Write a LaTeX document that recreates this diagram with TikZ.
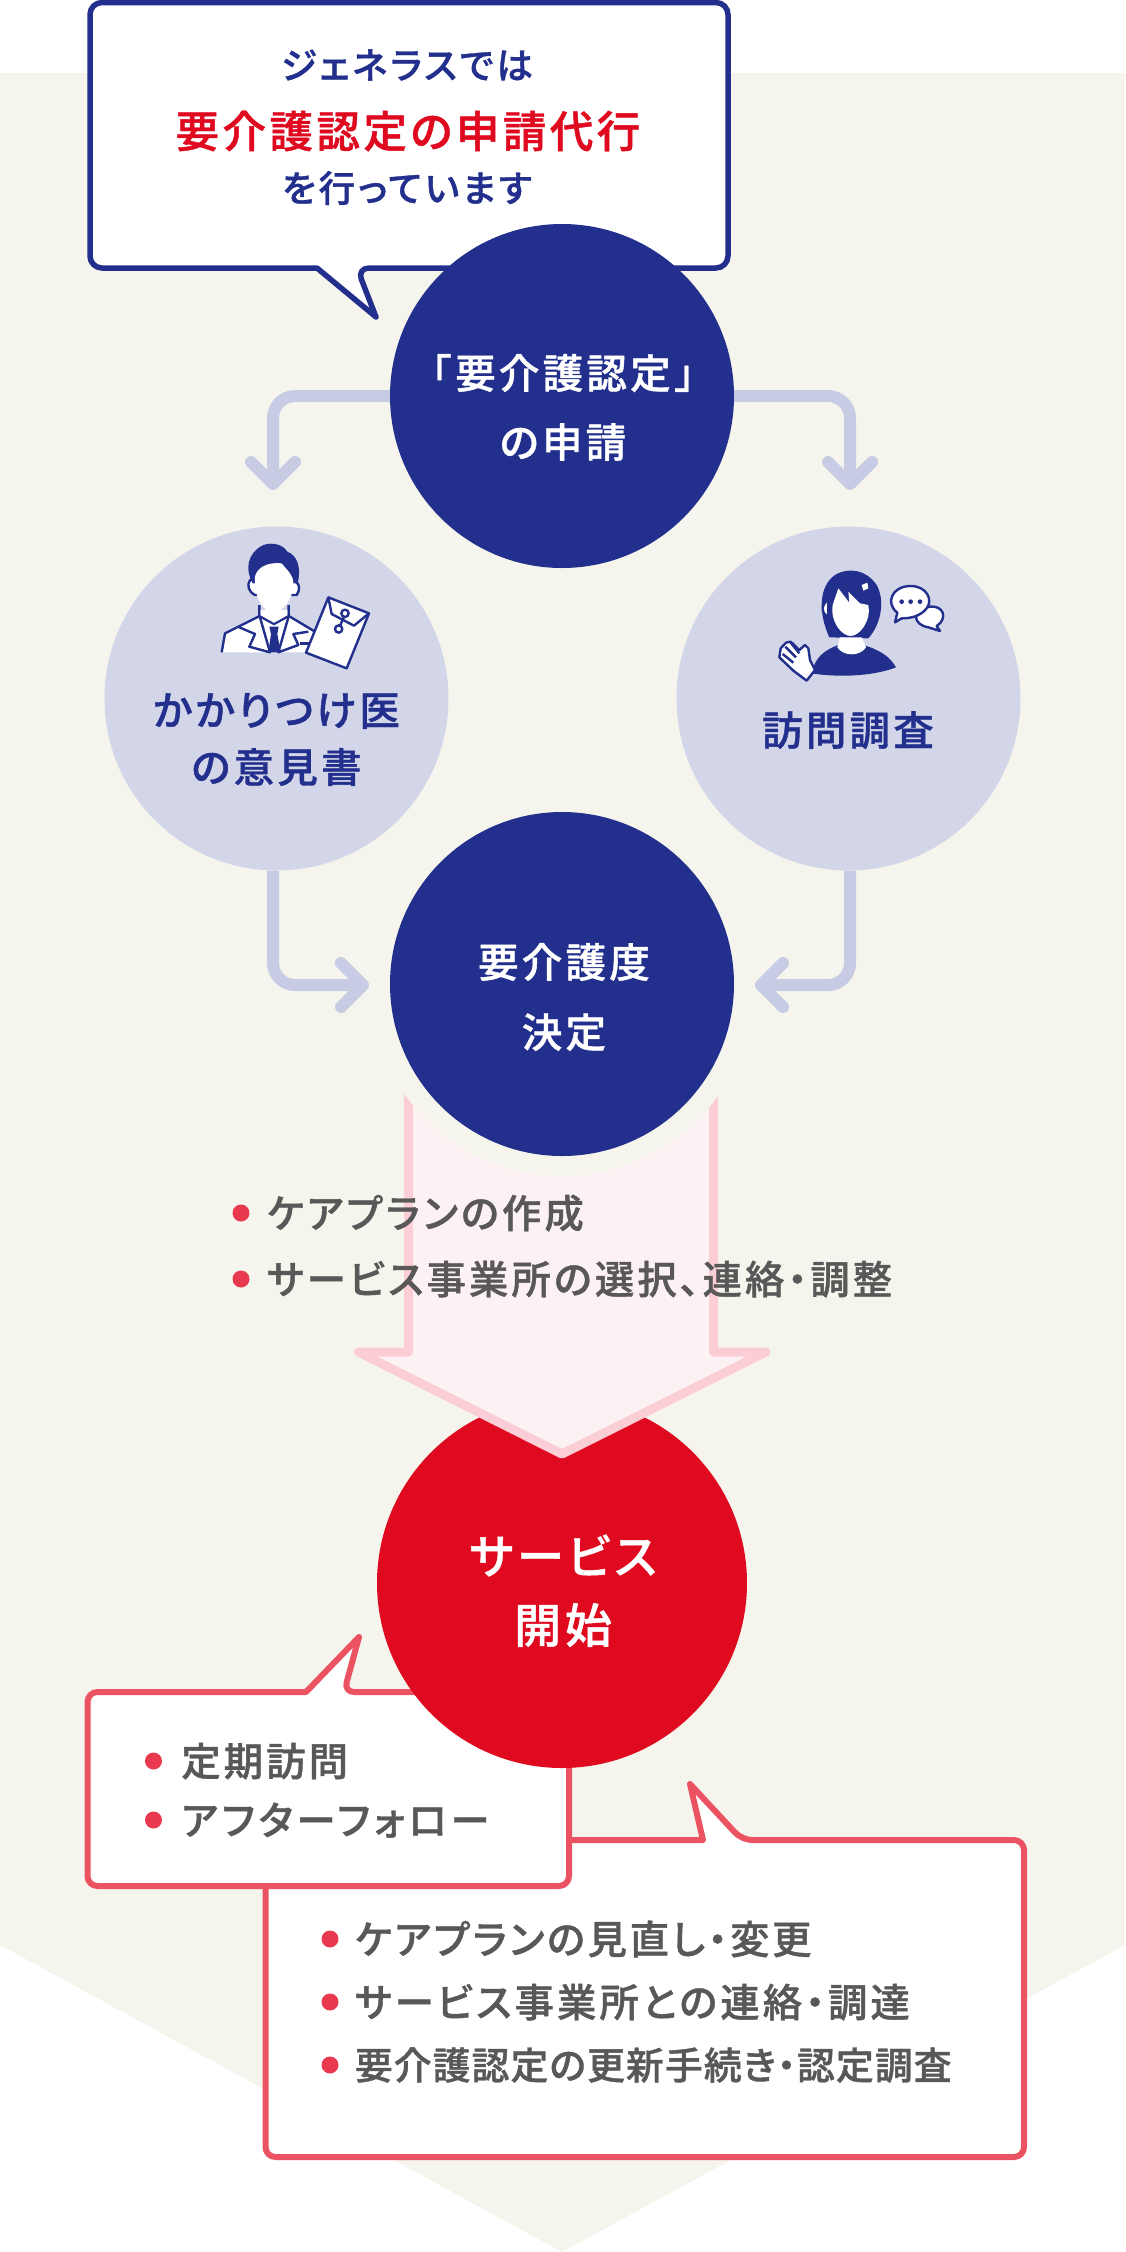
\documentclass[tikz,border=0pt]{standalone}
\usepackage{fontspec}
\usepackage{xcolor}
\setmainfont[LetterSpace=8,RawFeature=+palt,BoldFont={Noto Sans CJK JP Medium},BoldFeatures={FakeBold=1}]{Noto Sans CJK JP}
\usetikzlibrary{arrows.meta,positioning}
\definecolor{navy}{HTML}{222F8C}
\definecolor{pale}{HTML}{D3D6E9}
\definecolor{flowc}{HTML}{C8CBE4}
\definecolor{crimson}{HTML}{DF0A1F}
\definecolor{coral}{HTML}{EC5362}
\definecolor{dotc}{HTML}{E8394F}
\definecolor{pinkline}{HTML}{FBCED5}
\definecolor{pinkfill}{HTML}{FDF2F3}
\definecolor{beige}{HTML}{F5F5ED}
\definecolor{inkgray}{HTML}{595757}
\tikzset{
    disc/.style={circle, inner sep=0pt, minimum size=344pt, fill=navy},
    lightdisc/.style={disc, fill=pale},
    reddisc/.style={disc, minimum size=370pt, fill=crimson},
    halo/.style={disc, minimum size=384pt, fill=beige},
    word/.style={inner sep=0pt, text height=.88*#1*1pt, text depth=.12*#1*1pt, font=\bfseries\fontsize{#1}{#1}\selectfont},
    word/.default=40.5,
    inword/.style={word=#1, text=white},
    inword/.default=40.5,
    paleword/.style={word=#1, text=navy},
    paleword/.default=40.5,
    item/.style={word=#1, text=inkgray},
    item/.default=39.3,
    dot/.style={circle, inner sep=0pt, minimum size=17pt, fill=dotc},
    flow/.style={-{Straight Barb[length=22pt,width=44pt,round]}, line width=12pt, draw=flowc, rounded corners=22pt},
    navybubble/.style={draw=navy, fill=white, line width=5.5pt, line join=round},
    redbubble/.style={draw=coral, fill=white, line width=6pt, line join=round},
    icon/.style={draw=navy, fill=white, line width=2.4pt, line join=round},
    iconline/.style={navy, line width=2.4pt, line join=round}
}
\begin{document}
\begin{tikzpicture}[x=1pt,y=-1pt]
    \useasboundingbox (0,0) rectangle (1125,2252);
    \fill[beige] (0,73) -- (1125,73) -- (1125,1945) -- (562,2252) -- (0,1945) -- cycle;

    \draw[navybubble, rounded corners=12pt] (317,268) -- (90,268) -- (90,2.5) -- (728,2.5) -- (728,268) -- (357,268)
        [sharp corners] -- (376,317) -- cycle;

    \coordinate (doctortip) at (273,490);
    \coordinate (visittip) at (850,490);
    \coordinate (decideleft) at (369,985);
    \coordinate (decideright) at (755,985);

    \node[lightdisc] (doctor) at (276.5,698.5) {};
    \node[lightdisc] (visit) at (848.5,698.5) {};
    \node[disc] (apply) at (562,396) {};
    \draw[flow] (apply.west) -| (doctortip);
    \draw[flow] (apply.east) -| (visittip);
    \draw[flow] (doctortip |- doctor.south) |- (decideleft);
    \draw[flow] (visittip |- visit.south) |- (decideright);

    \draw[redbubble, rounded corners=10pt] (703,1840) -- (265.5,1840) -- (265.5,2157) -- (1024,2157) -- (1024,1840) -- (742,1840)
        [sharp corners] -- (690,1784) -- cycle;
    \draw[redbubble, rounded corners=10pt] (306,1692) -- (87.5,1692) -- (87.5,1886) -- (569,1886) -- (569,1692) -- (344,1692)
        [sharp corners] -- (359,1637) -- cycle;
    \node[reddisc] (start) at (562,1583) {};

    \fill[pinkfill] (408.5,1060) -- (408.5,1352) -- (358,1352) -- (562,1454) -- (766,1352) -- (713.5,1352) -- (713.5,1060) -- cycle;
    \draw[pinkline, line width=9pt, line join=round] (408.5,1060) -- (408.5,1352) -- (358.5,1352) -- (562,1454) -- (766,1352) -- (713.5,1352) -- (713.5,1060);
    \node[halo] (gap) at (562,984) {};
    \node[disc] (decide) at (562,984) {};

    \node[paleword=36.5] (lead) at (407,65) {ジェネラスでは};
    \node[word=43.5, text=crimson] (leadred) at (408,131) {要介護認定の申請代行};
    \node[paleword=36.5] (leadend) at (407,188) {を行っています};

    \node[inword] (applyone) at (563,373) {「\hspace{4pt}要介護認定\hspace{4pt}」};
    \node[inword] (applytwo) at (563,442) {の申請};
    \node[paleword] (doctorone) at (276.5,710) {かかりつけ医};
    \node[paleword] (doctortwo) at (276.5,767) {の意見書};
    \node[paleword] (visitone) at (848,730) {訪問調査};
    \node[inword] (decideone) at (564,962) {要介護度};
    \node[inword] (decidetwo) at (564,1032) {決定};
    \node[inword=47] (startone) at (563,1556) {サービス};
    \node[inword=47] (starttwo) at (563,1625) {開始};

    \node[dot] (plandot) at (241,1213) {};
    \node[item, right=17pt of plandot] (plan) {ケアプランの作成};
    \node[dot] (selectdot) at (241,1279) {};
    \node[item, right=17pt of selectdot] (select) {サービス事業所の選択、連絡・調整};

    \node[dot] (calldot) at (153.5,1761) {};
    \node[item, right=19pt of calldot] (call) {定期訪問};
    \node[dot] (afterdot) at (153.5,1820) {};
    \node[item, right=19pt of afterdot] (after) {\addfontfeature{LetterSpace=10}アフターフォロー};

    \node[dot] (reviewdot) at (330,1939) {};
    \node[item, right=16pt of reviewdot] (review) {\addfontfeature{LetterSpace=7}ケアプランの見直し・変更};
    \node[dot] (contactdot) at (330,2002) {};
    \node[item, right=16pt of contactdot] (contact) {サービス事業所との連絡・調達};
    \node[dot] (renewdot) at (330,2065) {};
    \node[item=37.8, right=16pt of renewdot] (renew) {\addfontfeature{LetterSpace=3}要介護認定の更新手続き・認定調査};

    \begin{scope}[shift={(200,530)},scale=1/3]
        \path[fill=white] (65,367) -- (75,310) -- (175,260) -- (270,260) -- (345,305) -- (320,367) -- cycle;
        \draw[iconline] (65,367) -- (75,310) -- (175,260) -- (270,260) -- (345,305);
        \draw[iconline] (118,292) -- (165,312) -- (148,350) -- (210,367) -- (180,262);
        \draw[iconline] (325,305) -- (280,312) -- (295,345) -- (235,367) -- (265,262);
        \fill[navy] (208,290) -- (236,290) -- (232,312) -- (242,367) -- (205,367) -- (213,312) -- cycle;
        \draw[iconline] (178,225) -- (178,258) -- (222,282) -- (266,258) -- (266,225);
        \fill[white] (182,240) -- (262,240) -- (262,256) -- (222,278) -- (182,256) -- cycle;
        \fill[navy] (300,335) rectangle (335,345);
        \draw[icon] (150,150) .. controls (140,165) and (145,185) .. (165,195) -- (290,195) .. controls (300,180) and (300,165) .. (288,155) -- cycle;
        \fill[navy] (158,160) .. controls (135,120) and (140,70) .. (190,45) .. controls (220,35) and (250,45) .. (262,65) .. controls (290,75) and (305,110) .. (293,160) -- cycle;
        \fill[white] (165,140) .. controls (170,115) and (200,95) .. (245,100) .. controls (265,125) and (280,135) .. (280,160) .. controls (280,210) and (245,248) .. (220,250) .. controls (195,248) and (160,205) .. (165,140) -- cycle;
        \draw[icon] (385,202) -- (507,250) -- (440,415) -- (318,368) -- cycle;
        \draw[iconline] (385,202) -- (395,252) -- (462,287) -- (507,250);
        \draw[icon] (435,250) circle[radius=11];
        \draw[icon] (416,297) circle[radius=11];
        \draw[iconline] (432,260) -- (420,288);
    \end{scope}

    \begin{scope}[shift={(760,550)},scale=1/3]
        \fill[navy] (208,262) .. controls (175,190) and (175,110) .. (225,75) .. controls (265,50) and (320,60) .. (350,105) .. controls (375,150) and (365,220) .. (325,265) -- cycle;
        \draw[icon] (205,150) .. controls (185,160) and (180,190) .. (205,200) -- cycle;
        \fill[navy] (155,370) .. controls (165,320) and (195,300) .. (235,285) -- (310,285) .. controls (360,300) and (390,320) .. (408,352) .. controls (350,375) and (250,385) .. (155,370) -- cycle;
        \fill[white] (240,262) -- (305,262) -- (318,292) .. controls (300,320) and (250,320) .. (232,292) -- cycle;
        \fill[white] (218,165) -- (235,115) -- (268,158) -- (265,125) -- (300,160) -- (325,165) .. controls (335,210) and (300,258) .. (272,258) .. controls (245,258) and (210,215) .. (218,165) -- cycle;
        \fill[white] (305,105) -- (322,98) -- (325,115) -- (310,122) -- cycle;
        \draw[icon] (165,360) -- (140,392) -- (100,362) -- (58,322) -- (62,295) -- (78,278) -- (92,275) -- (118,300) -- (135,285) -- (145,295) -- (150,330) -- cycle;
        \draw[iconline] (68,312) -- (100,338);
        \draw[iconline] (76,290) -- (108,322);
        \draw[iconline] (92,278) -- (118,310);
        \draw[icon] (510,170) .. controls (550,165) and (565,205) .. (530,228) -- (540,243) -- (505,232) .. controls (460,225) and (450,180) .. (510,170) -- cycle;
        \draw[icon] (452,108) .. controls (500,108) and (520,150) .. (500,175) .. controls (480,200) and (450,205) .. (425,205) -- (405,217) -- (412,188) .. controls (375,160) and (395,108) .. (452,108) -- cycle;
        \fill[navy] (425,155) circle[radius=7];
        \fill[navy] (452,155) circle[radius=7];
        \fill[navy] (480,155) circle[radius=7];
    \end{scope}
\end{tikzpicture}
\end{document}
